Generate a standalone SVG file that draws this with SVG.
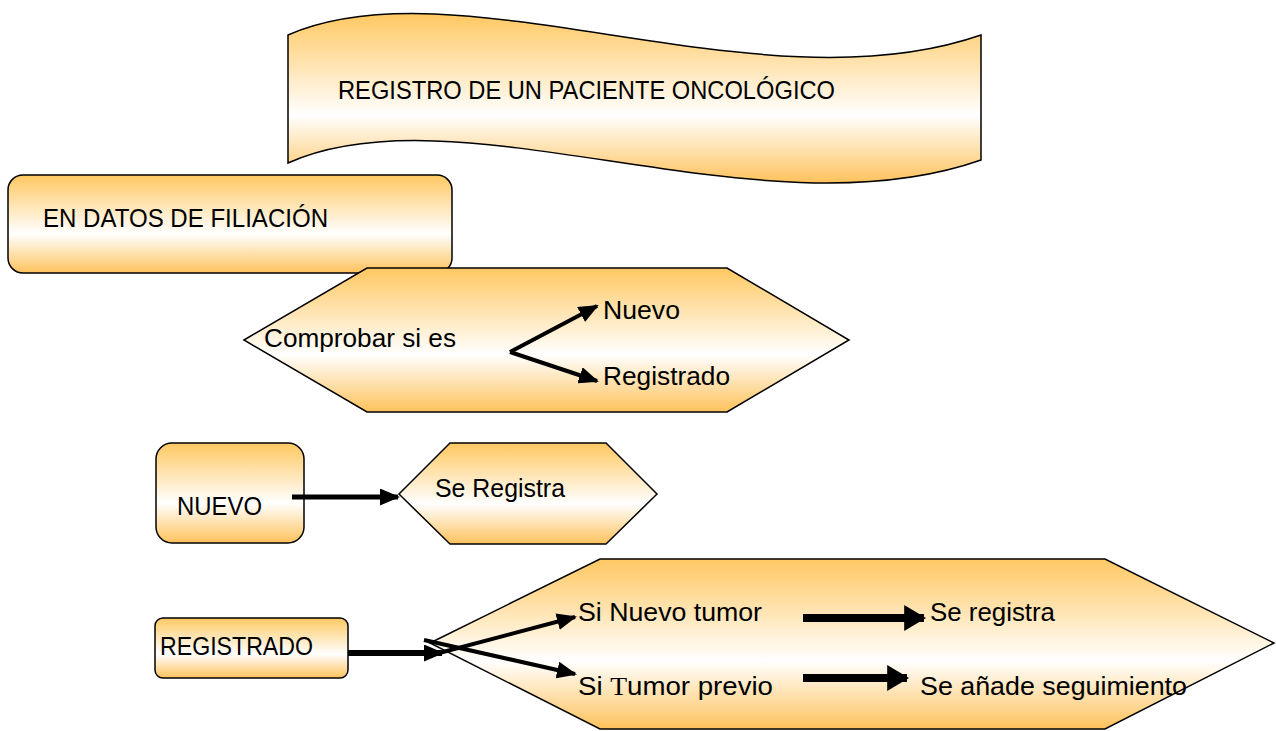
<svg xmlns="http://www.w3.org/2000/svg" width="1276" height="731" viewBox="0 0 1276 731">
<defs>
<linearGradient id="g" x1="0" y1="0" x2="0" y2="1">
<stop offset="0" stop-color="#FFC862"/>
<stop offset="0.6" stop-color="#FFFFFF"/>
<stop offset="1" stop-color="#FEC25C"/>
</linearGradient>
<marker id="ah" viewBox="0 0 10 10" refX="9" refY="5" markerWidth="20" markerHeight="17" markerUnits="userSpaceOnUse" orient="auto" preserveAspectRatio="none">
<path d="M0,0 L10,5 L0,10 z" fill="#000"/>
</marker>
<marker id="ahb" viewBox="0 0 10 10" refX="9" refY="5" markerWidth="22" markerHeight="26" markerUnits="userSpaceOnUse" orient="auto" preserveAspectRatio="none">
<path d="M0,0 L10,5 L0,10 z" fill="#000"/>
</marker>
</defs>
<style>
.shape{fill:url(#g);stroke:#000;stroke-width:1.5}
text{font-family:"Liberation Sans",Arial,sans-serif;font-size:25px;fill:#000}
.c{stroke:#000;fill:none}
</style>
<rect width="1276" height="731" fill="#fff"/>

<g id="banner">
<path class="shape" d="M288,35 C460,-40 760,112 981,35 L981,160 C760,238 460,86 288,163 Z"/>
<text x="338" y="99" textLength="497" lengthAdjust="spacingAndGlyphs">REGISTRO DE UN PACIENTE ONCOLÓGICO</text>
</g>

<g id="filiacion">
<rect class="shape" x="8" y="175" width="444" height="98" rx="15"/>
<text x="43" y="227" textLength="285" lengthAdjust="spacingAndGlyphs">EN DATOS DE FILIACIÓN</text>
</g>

<g id="comprobar">
<path class="shape" d="M244,340 L367,268 L727,268 L849,340 L727,412 L367,412 Z"/>
<text x="264" y="347" textLength="192" lengthAdjust="spacingAndGlyphs">Comprobar si es</text>
<text x="603" y="319" textLength="77" lengthAdjust="spacingAndGlyphs">Nuevo</text>
<text x="603" y="385" textLength="127" lengthAdjust="spacingAndGlyphs">Registrado</text>
</g>

<g id="nuevo">
<rect class="shape" x="156" y="443" width="148" height="100" rx="16"/>
<text x="177" y="515" textLength="85" lengthAdjust="spacingAndGlyphs">NUEVO</text>
</g>

<g id="se-registra">
<path class="shape" d="M399,494 L450,443 L606,443 L657,494 L606,544 L450,544 Z"/>
<text x="435" y="497" textLength="130" lengthAdjust="spacingAndGlyphs">Se Registra</text>
</g>

<g id="registrado">
<rect class="shape" x="155" y="618" width="193" height="60" rx="8"/>
<text x="160" y="655" textLength="153" lengthAdjust="spacingAndGlyphs">REGISTRADO</text>
</g>

<g id="seguimiento">
<path class="shape" d="M430,643 L600,559 L1105,559 L1274,643 L1105,729 L600,729 Z"/>
<text x="578" y="621" textLength="184" lengthAdjust="spacingAndGlyphs">Si Nuevo tumor</text>
<text x="930" y="621" textLength="125" lengthAdjust="spacingAndGlyphs">Se registra</text>
<text x="578" y="695" textLength="195" lengthAdjust="spacingAndGlyphs">Si <tspan font-family="'Liberation Serif',serif">T</tspan>umor previo</text>
<text x="920" y="695" textLength="267" lengthAdjust="spacingAndGlyphs">Se añade seguimiento</text>
</g>

<g id="connectors">
<path class="c" stroke-width="4" marker-end="url(#ah)" d="M510,352 L597,306"/>
<path class="c" stroke-width="4" marker-end="url(#ah)" d="M510,352 L597,381"/>
<path class="c" stroke-width="5" marker-end="url(#ah)" d="M292,497 L398,497"/>
<path class="c" stroke-width="6" marker-end="url(#ah)" d="M348,653 L442,653"/>
<path class="c" stroke-width="4" marker-end="url(#ah)" d="M428,656 L575,617"/>
<path class="c" stroke-width="4" marker-end="url(#ah)" d="M424,640 L575,674"/>
<path class="c" stroke-width="8" marker-end="url(#ahb)" d="M803,618 L924,618"/>
<path class="c" stroke-width="8" marker-end="url(#ahb)" d="M803,678 L907,678"/>
</g>
</svg>
